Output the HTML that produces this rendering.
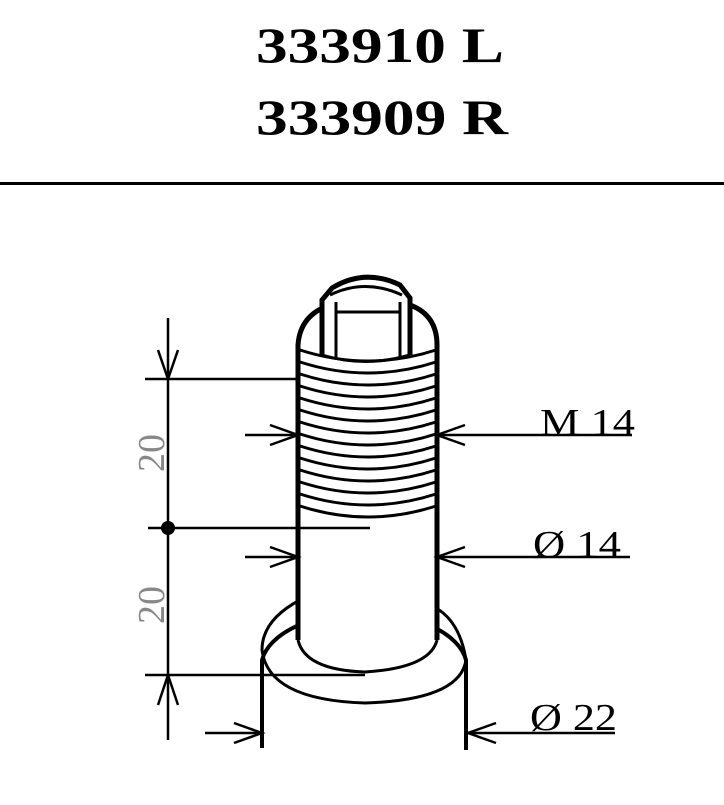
<!DOCTYPE html>
<html><head><style>
body{margin:0;background:#fff;width:724px;height:800px;overflow:hidden}
</style></head><body>
<svg width="724" height="800" xmlns="http://www.w3.org/2000/svg" font-family="Liberation Serif, serif">
<text x="256" y="62" font-size="50" font-weight="bold" textLength="248" lengthAdjust="spacingAndGlyphs">333910 L</text>
<text x="256" y="134" font-size="50" font-weight="bold" textLength="252" lengthAdjust="spacingAndGlyphs">333909 R</text>
<rect x="0" y="182" width="724" height="3" fill="#000"/>
<g stroke="#000" fill="none">
<path d="M262 748 V660 A103 55 0 0 1 466 660 V750" stroke-width="4" fill="#fff"/>
<path d="M300 600 Q262 620 262 650 Q268 700 365 703 Q460 700 466 660 Q460 622 436 608" stroke-width="3"/>
<path d="M298 640 V345 Q300 315 330 305 H410 Q437 315 437 345 V640" stroke-width="5" fill="#fff"/>
<path d="M298 640 Q305 670 365 672 Q430 668 437 640" stroke-width="3"/>
<g stroke-width="3">
<path d="M300 350 Q368 372 436 350"/>
<path d="M300 362 Q368 384 436 362"/>
<path d="M300 374 Q368 396 436 374"/>
<path d="M300 386 Q368 408 436 386"/>
<path d="M300 398 Q368 420 436 398"/>
<path d="M300 410 Q368 432 436 410"/>
<path d="M300 422 Q368 444 436 422"/>
<path d="M300 434 Q368 456 436 434"/>
<path d="M300 446 Q368 468 436 446"/>
<path d="M300 458 Q368 480 436 458"/>
<path d="M300 470 Q368 492 436 470"/>
<path d="M300 482 Q368 504 436 482"/>
<path d="M300 494 Q368 516 436 494"/>
<path d="M300 506 Q368 528 436 506"/>
</g>
<path d="M322 355 V300 L332 288 Q365 268 400 285 L410 298 V355" stroke-width="5" fill="#fff"/>
<path d="M330 295 Q365 278 402 295" stroke-width="3"/>
<path d="M336 312 H400" stroke-width="3"/>
<path d="M336 302 V358 M400 302 V358" stroke-width="3"/>
<path d="M322 355 Q365 368 410 355" stroke-width="3"/>
<g stroke-width="2.5">
<path d="M168 318 V740"/>
<path d="M145 379 H300"/>
<path d="M148 528 H370"/>
<path d="M145 675 H365"/>
<path d="M245 435 H298 M437 435 H632"/>
<path d="M245 557 H298 M437 557 H630"/>
<path d="M205 733 H262 M468 733 H615"/>
<path d="M158 350 L168 379 L178 350"/>
<path d="M158 705 L168 675 L178 705"/>
<path d="M270 425 L298 435 L270 445"/>
<path d="M465 425 L437 435 L465 445"/>
<path d="M270 547 L298 557 L270 567"/>
<path d="M465 547 L437 557 L465 567"/>
<path d="M234 723 L262 733 L234 743"/>
<path d="M496 723 L468 733 L496 743"/>
</g>
</g>
<circle cx="168" cy="528" r="7" fill="#000"/>
<g font-size="38" fill="#888">
<text transform="translate(164,472) rotate(-90)">20</text>
<text transform="translate(164,624) rotate(-90)">20</text>
</g>
<g font-size="38" fill="#000">
<text x="540" y="435" textLength="95" lengthAdjust="spacingAndGlyphs">M 14</text>
<text x="533" y="557" textLength="88" lengthAdjust="spacingAndGlyphs">Ø 14</text>
<text x="530" y="730" textLength="87" lengthAdjust="spacingAndGlyphs">Ø 22</text>
</g>
</svg>
</body></html>
